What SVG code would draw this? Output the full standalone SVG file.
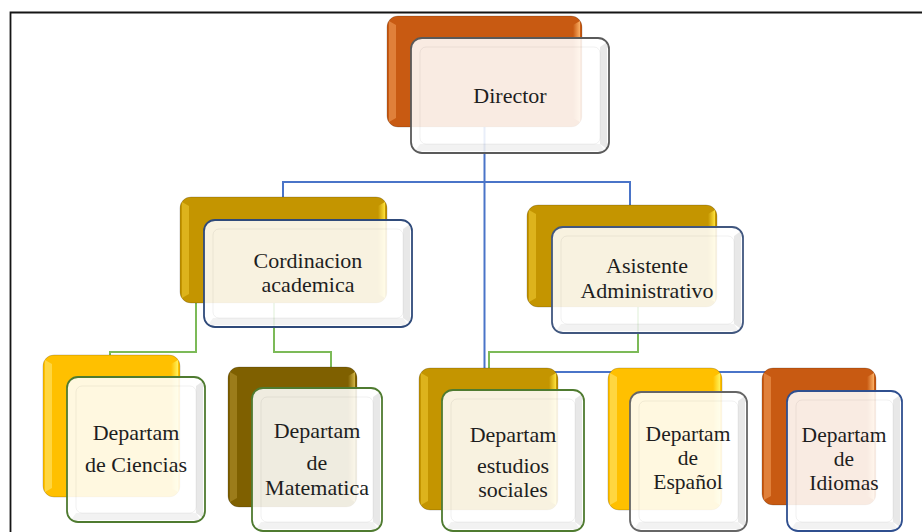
<svg xmlns="http://www.w3.org/2000/svg" width="922" height="532" viewBox="0 0 922 532">
  <style>
    .frame { fill: none; stroke: #151515; stroke-width: 1.8; }
    .blue { fill: none; stroke: #4A74C8; stroke-width: 2; }
    .green { fill: none; stroke: #7CBA58; stroke-width: 2; }
    .front { fill: #ffffff; fill-opacity: 0.88; stroke-width: 1.8; }
    .finner { fill: none; stroke: #000; stroke-opacity: 0.06; stroke-width: 1; }
    .fr { fill: #000; fill-opacity: 0.09; }
    .fb { fill: #000; fill-opacity: 0.05; }
    .orange { fill: #C85A12; }
    .orangeL { fill: #E0803A; }
    .gold { fill: #C49500; }
    .goldL { fill: #DDB31C; }
    .yellow { fill: #FFC000; }
    .yellowL { fill: #FFD640; }
    .olive { fill: #7F6000; }
    .oliveL { fill: #9C7C1A; }
    .backline { stroke: #000; stroke-opacity: 0.18; stroke-width: 1; }
    text { font-family: "Liberation Serif", "Times New Roman", serif; font-size: 22px; fill: #1e1e1e; text-anchor: middle; }
    .tight { font-size: 21.5px; }
  </style>
  <defs>
    <linearGradient id="rOrange" x1="0" y1="0" x2="1" y2="0">
      <stop offset="0" stop-color="#C85A12"/>
      <stop offset="1" stop-color="#FBB065"/>
    </linearGradient>
    <linearGradient id="rGold" x1="0" y1="0" x2="1" y2="0">
      <stop offset="0" stop-color="#C49500"/>
      <stop offset="1" stop-color="#FFE23A"/>
    </linearGradient>
    <linearGradient id="rYellow" x1="0" y1="0" x2="1" y2="0">
      <stop offset="0" stop-color="#FFC000"/>
      <stop offset="1" stop-color="#FFF25A"/>
    </linearGradient>
    <linearGradient id="rOlive" x1="0" y1="0" x2="1" y2="0">
      <stop offset="0" stop-color="#7F6000"/>
      <stop offset="1" stop-color="#D2B548"/>
    </linearGradient>
  </defs>

  <rect width="922" height="532" fill="#ffffff"/>
  <path class="frame" d="M10.5,533 V12.5 H923"/>

  <!-- connectors (drawn beneath the boxes) -->
  <g id="connectors">
    <path class="blue" d="M484.5,127 V370"/>
    <path class="blue" d="M283,182 H630"/>
    <path class="blue" d="M283,181 V198"/>
    <path class="blue" d="M630,181 V206"/>
    <path class="blue" d="M484.5,372 H820 V370"/>
    <path class="green" d="M196,303 V352 H110 V356"/>
    <path class="green" d="M274,303 V352 H331 V368"/>
    <path class="green" d="M638,307 V352 H489 V369"/>
  </g>

  <!-- Director -->
  <g id="node-director">
    <rect class="orange backline" x="387" y="16" width="195" height="111" rx="11"/>
    <polygon class="orangeL" points="389,21 396,25 396,118 389,122"/>
    <polygon fill="url(#rOrange)" points="573,25 580,21 580,122 573,118"/>
    <rect class="front" stroke="#5A5A5A" x="411" y="38" width="198" height="115" rx="11"/>
    <polygon class="fr" points="600,47 607,42 607,149 600,144"/>
    <polygon class="fb" points="420,144 600,144 605,151 415,151"/>
    <rect class="finner" x="420" y="47" width="180" height="97" rx="6"/>
    <text x="510" y="103">Director</text>
  </g>

  <!-- Cordinacion academica -->
  <g id="node-cordinacion">
    <rect class="gold backline" x="180" y="197" width="207" height="106" rx="11"/>
    <polygon class="goldL" points="182,202 189,206 189,294 182,298"/>
    <polygon fill="url(#rGold)" points="378,206 385,202 385,298 378,294"/>
    <rect class="front" stroke="#2F4A7A" x="204" y="220" width="208" height="107" rx="11"/>
    <polygon class="fr" points="403,229 410,224 410,323 403,318"/>
    <polygon class="fb" points="213,318 403,318 408,325 208,325"/>
    <rect class="finner" x="213" y="229" width="190" height="89" rx="6"/>
    <text x="308" y="268">Cordinacion</text>
    <text x="308" y="292">academica</text>
  </g>

  <!-- Asistente Administrativo -->
  <g id="node-asistente">
    <rect class="gold backline" x="527" y="205" width="190" height="102" rx="11"/>
    <polygon class="goldL" points="529,210 536,214 536,298 529,302"/>
    <polygon fill="url(#rGold)" points="708,214 715,210 715,302 708,298"/>
    <rect class="front" stroke="#41577F" x="552" y="227" width="191" height="106" rx="11"/>
    <polygon class="fr" points="734,236 741,231 741,329 734,324"/>
    <polygon class="fb" points="561,324 734,324 739,331 556,331"/>
    <rect class="finner" x="561" y="236" width="173" height="88" rx="6"/>
    <text x="647" y="273">Asistente</text>
    <text x="647" y="298">Administrativo</text>
  </g>

  <!-- Departam de Ciencias -->
  <g id="node-ciencias">
    <rect class="yellow backline" x="43" y="355" width="137" height="142" rx="11"/>
    <polygon class="yellowL" points="45,360 52,364 52,488 45,492"/>
    <polygon fill="url(#rYellow)" points="171,364 178,360 178,492 171,488"/>
    <rect class="front" stroke="#4F7B30" x="67" y="377" width="138" height="145" rx="11"/>
    <polygon class="fr" points="196,386 203,381 203,518 196,513"/>
    <polygon class="fb" points="76,513 196,513 201,520 71,520"/>
    <rect class="finner" x="76" y="386" width="120" height="127" rx="6"/>
    <text x="136" y="440">Departam</text>
    <text x="136" y="472">de Ciencias</text>
  </g>

  <!-- Departam de Matematica -->
  <g id="node-matematica">
    <rect class="olive backline" x="228" y="367" width="129" height="140" rx="11"/>
    <polygon class="oliveL" points="230,372 237,376 237,498 230,502"/>
    <polygon fill="url(#rOlive)" points="348,376 355,372 355,502 348,498"/>
    <rect class="front" stroke="#4F7B30" x="252" y="388" width="130" height="143" rx="11"/>
    <polygon class="fr" points="373,397 380,392 380,527 373,522"/>
    <polygon class="fb" points="261,522 373,522 378,529 256,529"/>
    <rect class="finner" x="261" y="397" width="112" height="125" rx="6"/>
    <text x="317" y="438">Departam</text>
    <text x="317" y="470">de</text>
    <text x="317" y="495">Matematica</text>
  </g>

  <!-- Departam estudios sociales -->
  <g id="node-estudios">
    <rect class="gold backline" x="419" y="368" width="139" height="142" rx="11"/>
    <polygon class="goldL" points="421,373 428,377 428,501 421,505"/>
    <polygon fill="url(#rGold)" points="549,377 556,373 556,505 549,501"/>
    <rect class="front" stroke="#4F7B30" x="442" y="390" width="142" height="141" rx="11"/>
    <polygon class="fr" points="575,399 582,394 582,527 575,522"/>
    <polygon class="fb" points="451,522 575,522 580,529 446,529"/>
    <rect class="finner" x="451" y="399" width="124" height="123" rx="6"/>
    <text x="513" y="442">Departam</text>
    <text x="513" y="473">estudios</text>
    <text x="513" y="497">sociales</text>
  </g>

  <!-- Departam de Español -->
  <g id="node-espanol">
    <rect class="yellow backline" x="608" y="368" width="114" height="142" rx="11"/>
    <polygon class="yellowL" points="610,373 617,377 617,501 610,505"/>
    <polygon fill="url(#rYellow)" points="713,377 720,373 720,505 713,501"/>
    <rect class="front" stroke="#666666" x="630" y="392" width="117" height="139" rx="11"/>
    <polygon class="fr" points="738,401 745,396 745,527 738,522"/>
    <polygon class="fb" points="639,522 738,522 743,529 634,529"/>
    <rect class="finner" x="639" y="401" width="99" height="121" rx="6"/>
    <text class="tight" x="688" y="441">Departam</text>
    <text class="tight" x="688" y="465">de</text>
    <text class="tight" x="688" y="489">Español</text>
  </g>

  <!-- Departam de Idiomas -->
  <g id="node-idiomas">
    <rect class="orange backline" x="762" y="368" width="114" height="137" rx="11"/>
    <polygon class="orangeL" points="764,373 771,377 771,496 764,500"/>
    <polygon fill="url(#rOrange)" points="867,377 874,373 874,500 867,496"/>
    <rect class="front" stroke="#2F4F8F" x="787" y="391" width="115" height="140" rx="11"/>
    <polygon class="fr" points="893,400 900,395 900,527 893,522"/>
    <polygon class="fb" points="796,522 893,522 898,529 791,529"/>
    <rect class="finner" x="796" y="400" width="97" height="122" rx="6"/>
    <text class="tight" x="844" y="442">Departam</text>
    <text class="tight" x="844" y="466">de</text>
    <text class="tight" x="844" y="490">Idiomas</text>
  </g>
</svg>
